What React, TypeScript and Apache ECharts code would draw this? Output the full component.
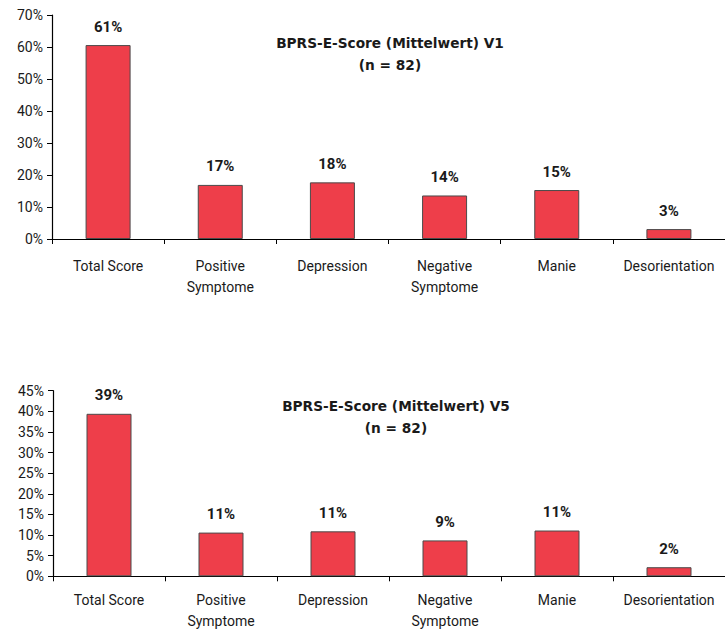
import React, { useEffect, useRef } from "react";
import * as echarts from "echarts";

// BPRS-E subscale means, shown as percentage of the maximum score
const categories = [
  "Total Score",
  "Positive\nSymptome",
  "Depression",
  "Negative\nSymptome",
  "Manie",
  "Desorientation",
];
const valuesV1 = [60.6, 16.9, 17.7, 13.6, 15.3, 3.1];
const valuesV5 = [39.4, 10.6, 10.9, 8.7, 11.1, 2.2];

const titleV1 = "BPRS-E-Score (Mittelwert) V1\n(n = 82)";
const titleV5 = "BPRS-E-Score (Mittelwert) V5\n(n = 82)";

const yMaxV1 = 70;
const yStepV1 = 10;
const yMaxV5 = 45;
const yStepV5 = 5;

const FONT = "Roboto";
const TITLE_FONT = "DejaVu Sans";
const BAR_COLOR = "#EE3E4A";
const TEXT_COLOR = "#1a1a1a";

export default function App() {
  const ref = useRef<HTMLDivElement>(null);

  useEffect(() => {
    if (!ref.current) return;
    const chart = echarts.init(ref.current, undefined, { renderer: "svg" });

    const xAxisBase = (gridIndex: number, margin: number) => ({
      type: "category" as const,
      gridIndex,
      data: categories,
      axisLine: { lineStyle: { color: "#000", width: 1.2 } },
      axisTick: { show: true, length: 5, inside: false, lineStyle: { color: "#000" } },
      axisLabel: {
        interval: 0,
        margin,
        fontSize: 14,
        lineHeight: 21,
        color: TEXT_COLOR,
        fontFamily: FONT,
      },
    });

    const yAxisBase = (gridIndex: number, max: number, step: number) => ({
      type: "value" as const,
      gridIndex,
      min: 0,
      max,
      interval: step,
      splitLine: { show: false },
      axisLine: { show: true, lineStyle: { color: "#000", width: 1.2 } },
      axisTick: { show: true, length: 5, lineStyle: { color: "#000" } },
      axisLabel: {
        margin: 9,
        fontSize: 14,
        color: TEXT_COLOR,
        fontFamily: FONT,
        formatter: (v: number) => `${v}%`,
      },
    });

    const barSeries = (idx: number, data: number[]) => ({
      type: "bar" as const,
      xAxisIndex: idx,
      yAxisIndex: idx,
      data,
      barWidth: 45,
      itemStyle: { color: BAR_COLOR, borderColor: "#4a4a4a", borderWidth: 1 },
      label: {
        show: true,
        position: "top" as const,
        distance: 11,
        fontSize: 15,
        fontWeight: "bold" as const,
        color: TEXT_COLOR,
        fontFamily: FONT,
        formatter: (p: any) => `${Math.round(p.value)}%`,
      },
    });

    const titleStyle = (text: string) => ({
      text,
      align: "center",
      verticalAlign: "middle",
      lineHeight: 22,
      fontSize: 13.7,
      fontWeight: "bold",
      fontFamily: TITLE_FONT,
      fill: TEXT_COLOR,
    });

    chart.setOption({
      animation: false,
      backgroundColor: "#fff",
      textStyle: { fontFamily: FONT },
      grid: [
        { left: 52, right: -4, top: 15, bottom: 396 },
        { left: 53, right: -7.5, top: 390.7, bottom: 58.7 },
      ],
      xAxis: [xAxisBase(0, 16), xAxisBase(1, 13)],
      yAxis: [yAxisBase(0, yMaxV1, yStepV1), yAxisBase(1, yMaxV5, yStepV5)],
      series: [barSeries(0, valuesV1), barSeries(1, valuesV5)],
      graphic: [
        { type: "text", x: 390, y: 54, style: titleStyle(titleV1) },
        { type: "text", x: 396, y: 417, style: titleStyle(titleV5) },
      ],
    });

    return () => chart.dispose();
  }, []);

  return (
    <div
      ref={ref}
      style={{ position: "fixed", left: 0, top: 0, width: 725, height: 635 }}
    />
  );
}
